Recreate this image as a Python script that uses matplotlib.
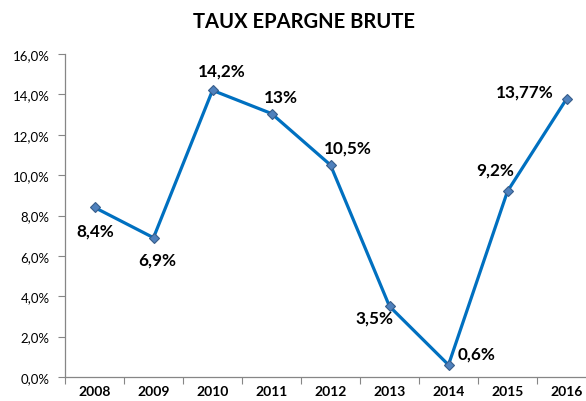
import matplotlib.pyplot as plt
import matplotlib.ticker as mticker

# Données
annees = ['2008', '2009', '2010', '2011', '2012', '2013', '2014', '2015', '2016']
taux = [8.4, 6.9, 14.2, 13.05, 10.5, 3.5, 0.6, 9.2, 13.77]
etiquettes = ['8,4%', '6,9%', '14,2%', '13%', '10,5%', '3,5%', '0,6%', '9,2%', '13,77%']
# décalage des étiquettes (pixels)
decalages = [(1, -23), (4, -22), (9, 20), (9, 17), (17, 18), (-15, -11), (28, 11), (-12, 22), (-42, 8)]

plt.rcParams['font.family'] = ['Lato', 'DejaVu Sans']

fig = plt.figure(figsize=(5.86, 4.02), dpi=100)
ax = fig.add_axes([65 / 586, 1 - 378 / 402, 531 / 586, 323 / 402])

x = list(range(len(annees)))
ax.plot(x, taux, color='#0070C0', linewidth=2.3, marker='D', markersize=5.5,
        markerfacecolor='#4F81BD', markeredgecolor='#385D8A', markeredgewidth=0.8)

for xi, yi, lab, off in zip(x, taux, etiquettes, decalages):
    ax.annotate(lab, (xi, yi), xytext=off, textcoords='offset pixels',
                ha='center', va='center', fontsize=12.3, fontweight='bold')

ax.set_ylim(0, 16)
ax.set_xlim(-0.5, len(annees) - 0.5)
ax.yaxis.set_major_locator(mticker.MultipleLocator(2))
ax.yaxis.set_major_formatter(mticker.FuncFormatter(lambda v, p: f'{v:.1f}%'.replace('.', ',')))

ax.set_xticks([i - 0.5 for i in range(len(annees) + 1)])
ax.set_xticklabels([])
ax.set_xticks(x, minor=True)
ax.set_xticklabels(annees, minor=True, fontweight='bold', fontsize=10)
ax.tick_params(axis='x', which='minor', length=0, pad=6)
ax.tick_params(axis='x', which='major', length=5, color='#868686', direction='out')
ax.tick_params(axis='y', length=5, color='#868686', labelsize=9.5, pad=6)

for s in ['top', 'right']:
    ax.spines[s].set_visible(False)
for s in ['left', 'bottom']:
    ax.spines[s].set_color('#868686')
    ax.spines[s].set_linewidth(0.9)

fig.text(304 / 586, 1 - 22 / 402, 'TAUX EPARGNE BRUTE', ha='center', va='center',
         fontsize=14.5, fontweight='bold')

fig.savefig('out.png', dpi=100)
